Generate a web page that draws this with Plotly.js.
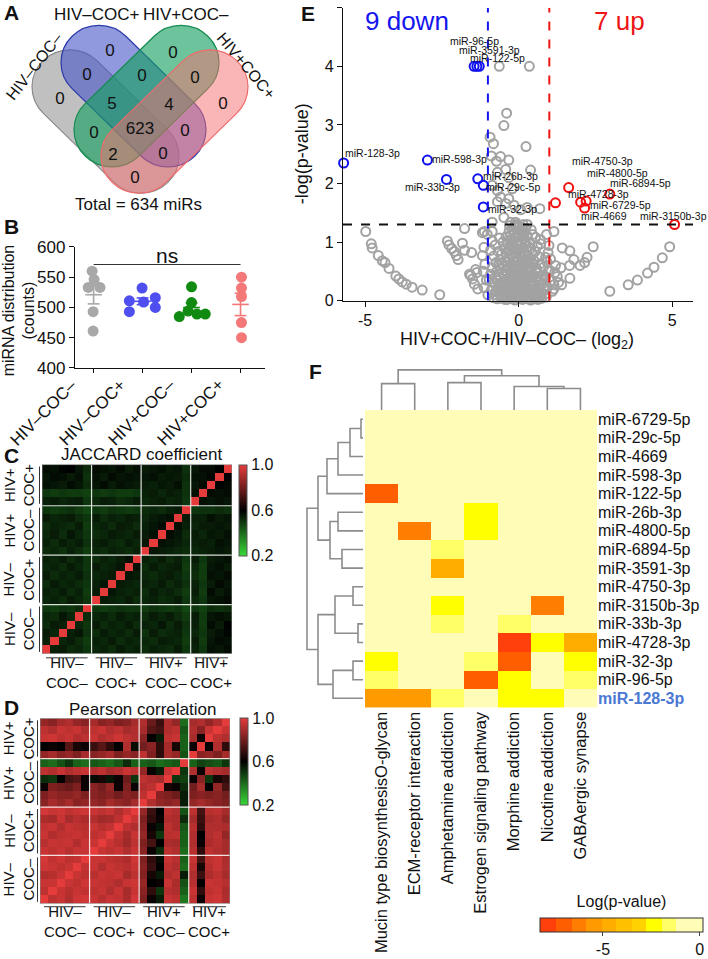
<!DOCTYPE html>
<html><head><meta charset="utf-8">
<script src="https://cdn.plot.ly/plotly-3.0.1.min.js"></script>
<style>body{margin:0;padding:0;background:#fff}#chart{width:708px;height:959px}</style>
</head><body><div id="chart"></div>
<script>
// ================= DATA =================
// A: Venn
const vennSets = ['HIV–COC–','HIV–COC+','HIV+COC–','HIV+COC+'];
const vennRegionCounts = [0,0,0,0, 0,0,0, 5,4, 0,623,0, 2,0, 0];
const vennTotal = 634;

// B: miRNA distribution (counts)
const bGroups = ['HIV–COC–','HIV–COC+','HIV+COC–','HIV+COC+'];
const bHivNegCocNeg = [560,546,533,533,493,461];
const bHivNegCocPos = [532,511,516,509,493,500];
const bHivPosCocNeg = [534,508,485,494,489,489];
const bHivPosCocPos = [550,532,518,475,450];

// C/D: sample groups
const sampleGroupSizes = [6,6,6,5];
const sampleGroupNames = ['HIV–<br>COC–','HIV–<br>COC+','HIV+<br>COC–','HIV+<br>COC+'];

// C: Jaccard coefficient (lower triangle, row = sample from bottom)
const jaccardLower = [
[1],
[.54,1],
[.55,.53,1],
[.52,.55,.54,1],
[.53,.52,.56,.53,1],
[.50,.49,.51,.50,.52,1],
[.53,.54,.52,.55,.53,.50,1],
[.54,.53,.55,.52,.54,.49,.55,1],
[.52,.55,.53,.54,.52,.50,.54,.56,1],
[.55,.52,.54,.53,.55,.51,.53,.54,.55,1],
[.53,.54,.52,.55,.53,.50,.55,.53,.54,.56,1],
[.54,.53,.55,.52,.54,.50,.52,.54,.53,.55,.57,1],
[.52,.53,.51,.54,.52,.49,.53,.52,.54,.53,.52,.54,1],
[.54,.52,.55,.53,.55,.51,.54,.55,.53,.52,.55,.53,.56,1],
[.53,.55,.52,.56,.53,.50,.52,.53,.55,.54,.53,.55,.55,.57,1],
[.52,.54,.53,.52,.55,.49,.53,.54,.52,.55,.54,.52,.54,.56,.58,1],
[.55,.53,.54,.55,.52,.50,.55,.52,.54,.53,.55,.54,.53,.55,.56,.57,1],
[.50,.49,.50,.51,.49,.47,.50,.49,.51,.50,.49,.50,.52,.53,.52,.54,.55,1],
[.54,.55,.53,.54,.55,.50,.53,.55,.54,.52,.53,.55,.53,.54,.55,.53,.54,.50,1],
[.50,.49,.50,.49,.49,.48,.50,.49,.50,.49,.49,.50,.54,.55,.53,.55,.54,.51,.57,1],
[.57,.56,.55,.58,.56,.52,.56,.58,.55,.57,.56,.55,.55,.54,.56,.55,.57,.51,.56,.58,1],
[.56,.58,.57,.55,.57,.51,.57,.55,.58,.56,.57,.56,.56,.57,.55,.56,.55,.52,.57,.57,.59,1],
[.58,.57,.59,.60,.56,.52,.58,.57,.56,.58,.55,.57,.55,.56,.57,.55,.56,.51,.56,.58,.58,.60,1]
];

// D: Pearson correlation (row = sample from bottom)
const pearson = [
[1,.93,.95,.91,.96,.97, .95,.92,.95,.94,.90,.97, .82,.62,.55,.95,.93,.38, .93,.62,.95,.96,.91],
[.93,1,.95,.92,.95,.94, .93,.95,.91,.95,.89,.95, .84,.68,.50,.92,.91,.42, .95,.68,.93,.95,.90],
[.95,.95,1,.95,.93,.96, .95,.94,.93,.91,.95,.96, .86,.60,.62,.95,.90,.45, .92,.60,.95,.94,.92],
[.91,.92,.95,1,.95,.93, .92,.95,.94,.95,.89,.93, .83,.64,.55,.91,.93,.55, .91,.70,.90,.93,.89],
[.96,.95,.93,.95,1,.94, .95,.91,.95,.93,.92,.95, .84,.70,.60,.93,.91,.40, .93,.64,.92,.95,.91],
[.97,.94,.96,.93,.94,1, .95,.95,.93,.92,.90,.96, .82,.68,.58,.95,.92,.42, .95,.72,.93,.95,.90],
[.95,.93,.95,.92,.95,.95, 1,.95,.93,.95,.91,.95, .84,.62,.52,.93,.91,.40, .92,.68,.93,.91,.89],
[.92,.95,.94,.95,.91,.95, .95,1,.95,.92,.88,.93, .82,.72,.60,.90,.89,.42, .91,.62,.90,.92,.89],
[.95,.91,.93,.94,.95,.93, .93,.95,1,.94,.89,.95, .86,.64,.50,.92,.93,.42, .91,.60,.91,.93,.86],
[.94,.95,.91,.95,.93,.92, .95,.92,.94,1,.93,.91, .84,.62,.56,.93,.90,.44, .92,.68,.91,.91,.90],
[.90,.89,.95,.89,.92,.90, .91,.88,.89,.93,1,.95, .82,.68,.62,.91,.90,.52, .89,.70,.89,.91,.86],
[.97,.95,.96,.93,.95,.96, .95,.93,.95,.91,.95,1, .86,.70,.60,.93,.91,.45, .93,.72,.92,.93,.89],
[.84,.89,.86,.89,.84,.86, .86,.84,.89,.86,.84,.89, 1,.91,.86,.84,.86,.55, .86,.89,.86,.84,.82],
[.82,.86,.84,.84,.86,.82, .84,.82,.84,.80,.84,.82, .93,1,.84,.82,.79,.55, .82,.84,.82,.84,.80],
[.62,.82,.80,.78,.82,.62, .84,.80,.86,.62,.82,.62, .91,.93,1,.64,.62,.52, .80,.89,.60,.86,.72],
[.52,.50,.60,.72,.75,.62, .58,.64,.56,.62,.79,.50, .93,.91,.89,1,.50,.48, .62,.84,.50,.64,.68],
[.93,.91,.95,.91,.93,.95, .91,.93,.89,.91,.95,.93, .86,.62,.55,.95,1,.50, .91,.62,.93,.91,.89],
[.42,.40,.45,.50,.42,.40, .44,.42,.40,.44,.52,.42, .42,.44,.40,.42,.44,1, .42,.48,.46,.44,.50],
[.86,.89,.84,.86,.82,.89, .84,.86,.89,.82,.86,.84, .93,.82,.68,.89,.86,.45, 1,.84,.86,.82,.89],
[.60,.62,.60,.75,.64,.62, .70,.75,.68,.60,.91,.58, .80,.84,.68,.89,.64,.42, .62,1,.60,.91,.68],
[.95,.96,.93,.95,.91,.93, .95,.91,.93,.96,.93,.91, .84,.60,.55,.93,.95,.42, .89,.62,1,.93,.91],
[.93,.91,.95,.93,.95,.91, .93,.95,.91,.93,.89,.91, .89,.75,.72,.91,.93,.44, .91,.84,.95,1,.95],
[.86,.84,.89,.91,.86,.84, .89,.84,.86,.82,.84,.89, .91,.78,.70,.91,.86,.40, .89,.91,.86,.91,1]
];

// E: volcano
const downNames = ['miR-96-5p','miR-3591-3p','miR-122-5p','miR-128-3p','miR-598-3p','miR-33b-3p','miR-26b-3p','miR-29c-5p','miR-32-3p'];
const downLog2FC = [-1.45,-1.36,-1.28,-5.7,-2.97,-2.35,-1.33,-1.15,-1.15];
const downNegLogP = [4.0,4.0,4.0,2.35,2.4,2.07,2.08,1.97,1.6];
const upNames = ['miR-4750-3p','miR-4728-3p','miR-6729-5p','miR-6894-5p','miR-4669','miR-4800-5p','miR-3150b-3p'];
const upLog2FC = [1.63,1.2,2.02,2.2,2.15,2.97,5.08];
const upNegLogP = [1.93,1.67,1.68,1.7,1.58,1.82,1.3];
const notSigPoints = [
[-0.63,4.0],[0.35,4.0],[-0.39,3.2],[-0.48,2.99],[-0.93,2.79],[-0.82,2.68],[0.24,2.63],[-0.89,2.47],[-0.59,2.46],[-0.32,2.4],[-0.72,2.38],[0.39,2.23],[-0.42,2.24],[-0.69,2.19],[-0.32,2.1],[-0.86,1.97],[-0.69,1.88],[-0.21,1.91],[-0.59,1.77],[-0.32,1.74],[-0.69,1.69],[-0.42,1.66],[-0.15,1.63],[0.69,1.57],[0.28,1.59],[0.07,1.55],[-0.48,1.42],[-0.86,1.34],[-0.26,1.34],[-0.1,1.34],[-1.76,1.23],[-1.12,1.18],[-0.86,1.18],[0.28,1.3],[1.15,1.18],
[-4.98,1.18],[-4.8,0.97],[-4.77,0.9],[-4.57,0.77],[-4.44,0.68],[-4.35,0.65],[-4.22,0.55],[-4.0,0.42],[-3.9,0.37],[-3.79,0.32],[-3.66,0.28],[-3.47,0.23],[-3.14,0.18],[-2.57,0.1],
[-2.32,1.02],[-2.27,0.95],[-2.18,0.89],[-2.1,0.84],[-2.03,0.77],[-1.97,0.7],[-1.83,0.98],[-1.76,0.86],[-1.53,0.82],[-1.4,0.53],[-1.36,0.48],[-1.56,0.43],[-1.5,0.37],[-1.44,0.28],[-1.33,0.2],[-1.6,0.45],
[1.42,0.9],[1.67,0.85],[1.8,0.7],[2.23,0.74],[2.43,0.92],[2.15,0.65],[2.0,0.6],[1.66,0.6],[1.38,0.56],[1.67,0.38],[1.4,0.27],[1.15,0.27],[2.97,0.16],[3.57,0.27],[3.87,0.35],[4.2,0.47],[4.41,0.57],[4.68,0.73],[4.92,0.92],
[0.45,1.13],[0.55,1.08],[0.72,0.97],[0.91,1.13],[0.99,0.94],[0.88,0.74],[1.2,0.6],[1.26,0.41],[0.88,0.41],[0.93,0.24],[1.15,0.2],
[-1.02,1.13],[-0.86,1.02],[-1.18,1.16],[-1.13,0.91],[-1.18,0.77],[-1.1,0.62],[-1.15,0.5],[-1.05,0.35],[-1.12,0.22],[-1.0,0.1],
[-0.12,1.29],[0.02,1.27],[0.11,1.25],[-0.21,1.22],[-0.31,1.18],[-0.16,1.2],[0.06,1.19],[0.19,1.16],[0.41,1.21],
[-0.41,1.09],[-0.26,1.11],[-0.09,1.08],[0.04,1.12],[0.15,1.06],[0.29,1.1],[-0.62,1.07],[0.71,1.04],
[-0.51,1.0],[-0.36,0.98],[-0.19,1.01],[-0.06,0.97],[0.09,1.0],[0.23,0.96],[0.36,0.99],[-0.76,0.95],[0.61,0.93],
[-0.46,0.9],[-0.29,0.88],[-0.14,0.91],[0.01,0.87],[0.13,0.9],[0.26,0.86],[0.39,0.89],[-0.91,0.86],[-0.66,0.84],[0.54,0.84],[0.96,0.82],
[-0.56,0.79],[-0.41,0.81],[-0.24,0.78],[-0.11,0.8],[0.06,0.77],[0.19,0.8],[0.31,0.76],[0.46,0.79],[-0.81,0.76],[0.66,0.75],[1.04,0.71],
[-0.61,0.7],[-0.44,0.68],[-0.31,0.71],[-0.16,0.67],[0.0,0.7],[0.1,0.66],[0.21,0.69],[0.33,0.65],[0.51,0.68],[-0.74,0.65],[0.71,0.63],[0.92,0.66],
[-0.66,0.6],[-0.49,0.58],[-0.36,0.61],[-0.21,0.57],[-0.04,0.6],[0.08,0.56],[0.2,0.59],[0.31,0.55],[0.43,0.58],[0.59,0.54],[-0.86,0.56],[0.81,0.57],[1.01,0.52],
[-0.71,0.5],[-0.54,0.48],[-0.41,0.51],[-0.27,0.47],[-0.14,0.5],[-0.01,0.46],[0.11,0.49],[0.23,0.45],[0.36,0.48],[0.49,0.44],[0.63,0.47],[-0.91,0.45],[0.78,0.43],[1.18,0.48],[0.96,0.5],
[-0.76,0.4],[-0.59,0.38],[-0.46,0.41],[-0.33,0.37],[-0.19,0.4],[-0.07,0.36],[0.05,0.39],[0.16,0.35],[0.28,0.38],[0.41,0.34],[0.56,0.37],[0.69,0.33],[-0.96,0.36],[0.86,0.38],[1.06,0.34],
[-0.81,0.3],[-0.64,0.28],[-0.51,0.31],[-0.38,0.27],[-0.24,0.3],[-0.12,0.26],[0.01,0.29],[0.12,0.25],[0.24,0.28],[0.37,0.24],[0.51,0.27],[0.66,0.23],[0.79,0.29],[1.3,0.31],
[-0.69,0.2],[-0.56,0.18],[-0.42,0.21],[-0.29,0.17],[-0.17,0.2],[-0.04,0.16],[0.08,0.19],[0.21,0.15],[0.33,0.18],[0.46,0.14],[0.61,0.17],[0.76,0.13],[-0.89,0.18],[0.91,0.19],[1.1,0.16],
[-0.61,0.11],[-0.46,0.09],[-0.33,0.12],[-0.2,0.08],[-0.08,0.11],[0.06,0.07],[0.18,0.1],[0.31,0.06],[0.43,0.09],[0.56,0.05],[0.71,0.08],[-0.79,0.1],[0.86,0.11],
[-0.51,0.04],[-0.37,0.02],[-0.25,0.05],[-0.12,0.01],[0.0,0.04],[0.13,0.02],[0.26,0.05],[0.39,0.01],[0.51,0.03],[0.63,0.02],[-0.69,0.03],
[-0.05,1.3],[0.15,1.3],[-0.3,1.28],[0.22,1.23],[-0.02,1.14],[0.1,1.02],[-0.18,0.94],[0.18,0.83],[-0.05,0.74],[0.14,0.63],[-0.1,0.54],[0.27,0.52],[-0.22,0.44],[0.1,0.42],[-0.32,0.33],[0.05,0.32],[0.18,0.22],[-0.1,0.23],[0.27,0.12],[-0.27,0.14],
[-0.07,1.24],[0.08,1.21],[-0.14,1.15],[0.12,1.12],[-0.22,1.05],[0.2,1.02],[-0.02,0.99],[-0.28,0.94],[0.31,0.93],[-0.09,0.86],[0.08,0.83],[-0.35,0.84],[0.24,0.77],[-0.18,0.73],[0.38,0.72],[-0.38,0.66],[0.05,0.63],[0.27,0.62],[-0.26,0.62],[-0.55,0.64],[0.48,0.62],
[-0.12,0.57],[0.16,0.53],[-0.33,0.55],[0.38,0.53],[-0.6,0.54],[0.55,0.5],[-0.05,0.5],[-0.47,0.45],[0.3,0.43],[-0.13,0.43],[0.44,0.4],[-0.66,0.44],[0.63,0.41],[-0.26,0.38],[0.0,0.35],[0.21,0.33],[-0.43,0.34],[0.47,0.3],[-0.7,0.35],[0.74,0.36],
[-0.19,0.32],[0.08,0.28],[-0.31,0.24],[0.29,0.21],[-0.48,0.25],[0.57,0.21],[-0.63,0.24],[0.7,0.27],[-0.02,0.22],[0.14,0.17],[-0.36,0.16],[0.39,0.13],[-0.52,0.14],[0.66,0.12],[-0.75,0.15],[0.82,0.22],
[-0.14,0.13],[0.02,0.11],[0.24,0.09],[-0.4,0.06],[0.48,0.07],[-0.57,0.08],[0.62,0.1],[-0.06,0.06],[0.08,0.03],[-0.2,0.03],[0.33,0.03],[-0.45,0.02],[0.75,0.04],[-0.82,0.05],[0.9,0.06]
];
const fcCut = 1, pCut = 1.3;

// F: pathway heatmap
const fRows = ['miR-6729-5p','miR-29c-5p','miR-4669','miR-598-3p','miR-122-5p','miR-26b-3p','miR-4800-5p','miR-6894-5p','miR-3591-3p','miR-4750-3p','miR-3150b-3p','miR-33b-3p','miR-4728-3p','miR-32-3p','miR-96-5p','miR-128-3p'];
const fCols = ['Mucin type biosynthesisO-glycan','ECM-receptor interaction','Amphetamine addiction','Estrogen signaling pathway','Morphine addiction','Nicotine addiction','GABAergic synapse'];
const fLogP = [
[0,0,0,0,0,0,0],
[0,0,0,0,0,0,0],
[0,0,0,0,0,0,0],
[0,0,0,0,0,0,0],
[-7.0,0,0,0,0,0,0],
[0,0,0,-2.4,0,0,0],
[0,-6.2,0,-2.4,0,0,0],
[0,0,-1.6,0,0,0,0],
[0,0,-4.7,0,0,0,0],
[0,0,0,0,0,0,0],
[0,0,-2.2,0,0,-6.5,0],
[0,0,-1.5,0,-1.5,0,0],
[0,0,0,0,-7.8,-2.4,-4.5],
[-2.3,0,0,-1.6,-6.8,-0.5,-2.3],
[-1.6,0,0,-7.0,-2.4,-0.5,-1.6],
[-5.5,-5.5,-1.6,-0.8,-2.4,-2.4,-0.8]
];
// dendrogram linkages: [left node, right node, height]
const rowLinkage = [[0,1,2],[16,2,13],[17,3,25],[18,4,36],[5,6,25],[7,8,21],[20,21,33],[19,22,45],[9,10,10],[11,12,5],[24,25,28],[13,14,10],[27,15,30],[26,28,45],[23,29,56]];
const colLinkage = [[0,1,27],[2,3,28],[5,6,22],[4,9,24],[8,10,35],[7,11,41]];

// ================= LAYOUT HELPERS =================
const W=708,H=959;
const X=p=>p/W, Y=p=>1-p/H;
const FONT='Arial, "Liberation Sans", Helvetica, sans-serif';
const traces=[], shapes=[], ann=[];
function txt(x,y,text,size,opts){ann.push(Object.assign({xref:'x',yref:'y',x:x,y:y,text:text,showarrow:false,
  font:{size:size,family:FONT,color:'#111'},xanchor:'center',yanchor:'middle'},opts||{}));}

// ---------- A: Venn ----------
function stadium(c1,c2,r){
  const dx=c2[0]-c1[0],dy=c2[1]-c1[1],L=Math.hypot(dx,dy),ux=dx/L,uy=dy/L,nx=-uy,ny=ux,k=0.5523*r;
  const p=(c,a,b)=>(c[0]+a*ux+b*nx).toFixed(2)+','+(c[1]+a*uy+b*ny).toFixed(2);
  return 'M'+p(c1,0,r)+' L'+p(c2,0,r)+' C'+p(c2,k,r)+' '+p(c2,r,k)+' '+p(c2,r,0)+
    ' C'+p(c2,r,-k)+' '+p(c2,k,-r)+' '+p(c2,0,-r)+' L'+p(c1,0,-r)+
    ' C'+p(c1,-k,-r)+' '+p(c1,-r,-k)+' '+p(c1,-r,0)+' C'+p(c1,-r,k)+' '+p(c1,-k,r)+' '+p(c1,0,r)+' Z';
}
const vennShapes=[
 {c1:[70,89],c2:[141,160],fill:'rgba(140,140,140,0.55)',line:'#8a8a8a'},
 {c1:[99,64],c2:[168,133],fill:'rgba(70,85,200,0.6)',line:'#2a3aa8'},
 {c1:[181,64],c2:[112,133],fill:'rgba(20,160,95,0.62)',line:'#138a4e'},
 {c1:[210,89],c2:[139,160],fill:'rgba(245,110,110,0.5)',line:'#f06a6a'}];
vennShapes.forEach(s=>shapes.push({type:'path',xref:'x',yref:'y',layer:'below',path:stadium(s.c1,s.c2,38),
  fillcolor:s.fill,line:{color:s.line,width:1.2}}));
const vennRegionPos=[[60,102],[110,53],[173,55],[223,107],[87,78],[142,79],[195,81],[112,107],[169,108],[94,137],[140,133],[185,135],[113,160],[163,159],[135,183]];
traces.push({type:'scatter',mode:'text',xaxis:'x',yaxis:'y',x:vennRegionPos.map(p=>p[0]),y:vennRegionPos.map(p=>p[1]),
  text:vennRegionCounts.map(String),textfont:{size:17,family:FONT,color:'#111'},hoverinfo:'skip',cliponaxis:false});
txt(34,68,vennSets[0],16,{textangle:-52});
txt(97,15,vennSets[1],17);
txt(186,15,vennSets[2],17);
txt(246,67,vennSets[3],16,{textangle:50});
txt(138,210,'Total = '+vennTotal+' miRs',17);

// panel letters
[['A',2,13],['B',2,232],['C',2,467],['D',2,725],['E',299,14],['F',307,381]].forEach(l=>
  txt(l[1],l[2],'<b>'+l[0]+'</b>',21,{xanchor:'left'}));

// ---------- B ----------
const bData=[bHivNegCocNeg,bHivNegCocPos,bHivPosCocNeg,bHivPosCocPos];
const bColors=['#a8a8a8','#4f4ff0','#108a10','#f47878'];
const bJitter=[[-0.03,0.01,-0.11,0.13,-0.01,-0.01],[-0.01,-0.27,0.26,0.02,-0.27,0.26],[0,0,-0.25,-0.07,0.11,0.28],[0.02,0.02,0.02,0.02,0.02]];
bData.forEach((vals,g)=>{
  traces.push({type:'scatter',mode:'markers',xaxis:'x2',yaxis:'y2',x:vals.map((v,i)=>g+bJitter[g][i]),y:vals,
    marker:{size:11,color:bColors[g]},hoverinfo:'skip',cliponaxis:false});
  const n=vals.length,m=vals.reduce((a,b)=>a+b,0)/n;
  const sd=Math.sqrt(vals.reduce((a,b)=>a+(b-m)*(b-m),0)/(n-1)),se=sd/Math.sqrt(n);
  const hw=0.17,cw=0.12;
  traces.push({type:'scatter',mode:'lines',xaxis:'x2',yaxis:'y2',
    x:[g-hw,g+hw,null,g-cw,g+cw,null,g-cw,g+cw,null,g,g],
    y:[m,m,null,m+se,m+se,null,m-se,m-se,null,m-se,m+se],
    line:{color:bColors[g],width:1.6},hoverinfo:'skip'});
});
traces.push({type:'scatter',mode:'lines',xaxis:'x2',yaxis:'y2',x:[0,3],y:[571,571],line:{color:'#333',width:1.2},hoverinfo:'skip'});
ann.push({xref:'x2',yref:'y2',x:1.5,y:586,text:'ns',showarrow:false,font:{size:21,family:FONT,color:'#111'}});
txt(19,318,'miRNA distribution<br>(counts)',16,{textangle:-90});
// rotated category labels (anchored at each category tick)
bGroups.forEach((g,i)=>ann.push({xref:'x2',yref:'y',x:i,y:382,xshift:-10,text:g,showarrow:false,textangle:-45,
  xanchor:'right',yanchor:'top',font:{size:17,family:FONT,color:'#111'}}));

// ---------- C & D heatmaps ----------
const n=jaccardLower.length, idx=[...Array(n).keys()];
const jaccard=idx.map(i=>idx.map(j=>j<=i?jaccardLower[i][j]:jaccardLower[j][i]));
const rgScale=[[0,'#38d838'],[0.5,'#000000'],[1,'#e53b3b']];
function cb(xpx,ypx,lenpx){return {x:X(xpx),xanchor:'left',xpad:0,y:Y(ypx),yanchor:'top',ypad:0,len:lenpx,lenmode:'pixels',
  thickness:8,thicknessmode:'pixels',outlinewidth:1,outlinecolor:'#555',tickvals:[0.2,0.6,1.0],ticktext:['0.2','0.6','1.0'],
  ticks:'',tickfont:{size:16,family:FONT,color:'#111'}};}
traces.push({type:'heatmap',xaxis:'x3',yaxis:'y3',z:jaccard,x:idx,y:idx,colorscale:rgScale,zmin:0.2,zmax:1,colorbar:cb(239,476,91),hoverinfo:'skip'});
traces.push({type:'heatmap',xaxis:'x4',yaxis:'y4',z:pearson,x:idx,y:idx,colorscale:rgScale,zmin:0.2,zmax:1,colorbar:cb(240,736,87),hoverinfo:'skip'});
const seps=[];let acc=0;sampleGroupSizes.slice(0,-1).forEach(s=>{acc+=s;seps.push(acc-0.5);});
[['x3','y3'],['x4','y4']].forEach(a=>{
  seps.forEach(s=>{
    shapes.push({type:'line',xref:a[0],yref:a[1],x0:s,x1:s,y0:-0.5,y1:n-0.5,line:{color:'rgba(255,255,255,0.85)',width:1.2}});
    shapes.push({type:'line',xref:a[0],yref:a[1],y0:s,y1:s,x0:-0.5,x1:n-0.5,line:{color:'rgba(255,255,255,0.85)',width:1.2}});
  });
  shapes.push({type:'rect',xref:a[0],yref:a[1],x0:-0.5,x1:n-0.5,y0:-0.5,y1:n-0.5,line:{color:'#888',width:1}});
});
function groupLabels(left,top,right,bottom,brY,labY){
  const cw=(right-left)/n,ch=(bottom-top)/n;let k=0;
  sampleGroupSizes.forEach((s,g)=>{
    const x0=left+k*cw,x1=left+(k+s)*cw,yb=bottom-k*ch,yt=bottom-(k+s)*ch;
    shapes.push({type:'line',xref:'x',yref:'y',x0:x0+4,x1:x1-4,y0:brY,y1:brY,line:{color:'#333',width:1}});
    txt((x0+x1)/2,labY,sampleGroupNames[g],15);
    shapes.push({type:'line',xref:'x',yref:'y',x0:left-2.5,x1:left-2.5,y0:yt+2,y1:yb-2,line:{color:'#333',width:1}});
    txt(19,(yt+yb)/2,sampleGroupNames[g],15,{textangle:-90});
    k+=s;
  });
}
groupLabels(42,476,232,670,674,689);
groupLabels(40,736,230,926,929,944);
txt(142,466,'JACCARD coefficient',17);
txt(142,727,'Pearson correlation',17);

// ---------- E volcano ----------
traces.push({type:'scatter',mode:'markers',xaxis:'x5',yaxis:'y5',x:notSigPoints.map(p=>p[0]),y:notSigPoints.map(p=>p[1]),
  marker:{symbol:'circle-open',size:9,color:'#a2a2a2',line:{width:2}},hoverinfo:'skip',cliponaxis:false});
traces.push({type:'scatter',mode:'markers',xaxis:'x5',yaxis:'y5',x:downLog2FC,y:downNegLogP,
  marker:{symbol:'circle-open',size:9,color:'#1010f0',line:{width:2}},hoverinfo:'skip',cliponaxis:false});
traces.push({type:'scatter',mode:'markers',xaxis:'x5',yaxis:'y5',x:upLog2FC,y:upNegLogP,
  marker:{symbol:'circle-open',size:9,color:'#f01010',line:{width:2}},hoverinfo:'skip',cliponaxis:false});
shapes.push({type:'line',xref:'x5',yref:'y5',x0:-fcCut,x1:-fcCut,y0:0,y1:5,line:{color:'#1515ee',width:2,dash:'dash'}});
shapes.push({type:'line',xref:'x5',yref:'y5',x0:fcCut,x1:fcCut,y0:0,y1:5,line:{color:'#ee1515',width:2,dash:'dash'}});
shapes.push({type:'line',xref:'x5 domain',yref:'y5',x0:0,x1:1,y0:pCut,y1:pCut,line:{color:'#111',width:2,dash:'dash'}});
const downLabelShift=[[0,-25],[13,-16],[18,-8],[29,-10],[32,-1],[-14,8],[33,-3],[30,2],[29,2]];
const upLabelShift=[[34,-27],[43,-9],[40,3],[54,-18],[19,8],[8,-21],[-1,-8]];
function labelPts(names,xs,ys,sh){names.forEach((nm,i)=>ann.push({xref:'x5',yref:'y5',x:xs[i],y:ys[i],text:nm,showarrow:false,
  xshift:sh[i][0],yshift:-sh[i][1],borderpad:0,font:{size:10.5,family:FONT,color:'#111'}}));}
labelPts(downNames,downLog2FC,downNegLogP,downLabelShift);
labelPts(upNames,upLog2FC,upNegLogP,upLabelShift);
txt(407,21,downNames.length+' down',26,{font:{size:26,family:FONT,color:'#1515ee'}});
txt(619,21,upNames.length+' up',26,{font:{size:26,family:FONT,color:'#ee1515'}});
txt(517,349,'HIV+COC+/HIV–COC– (log<sub>2</sub>)',18);
txt(302,158,'-log(p-value)',18,{textangle:-90});

// ---------- F heatmap + dendrograms ----------
const bandEdges=[-8.25,-7.4,-6.6,-5.85,-5.07,-4.3,-3.5,-2.75,-1.97,-1.2,0.17];
const bandColors=['#ff3f0c','#ff5e00','#ff7d00','#ff9a00','#ffae00','#ffc000','#ffd200','#ffff00','#ffff66','#fffcb8'];
const zmin=bandEdges[0],zmax=bandEdges[bandEdges.length-1],fr=v=>(v-zmin)/(zmax-zmin);
const fScale=[];bandColors.forEach((c,i)=>{fScale.push([fr(bandEdges[i]),c]);fScale.push([fr(bandEdges[i+1]),c]);});
traces.push({type:'heatmap',xaxis:'x6',yaxis:'y6',z:fLogP,colorscale:fScale,zmin:zmin,zmax:zmax,hoverinfo:'skip',
  colorbar:{orientation:'h',x:X(621.5),xanchor:'center',xpad:0,y:Y(923),yanchor:'top',ypad:0,len:163,lenmode:'pixels',
    thickness:14,thicknessmode:'pixels',outlinewidth:1,outlinecolor:'#333',tickvals:[-5,0],ticktext:['-5','0'],ticks:'outside',ticklen:4,
    tickfont:{size:16,family:FONT,color:'#111'},title:{text:'Log(p-value)',side:'top',font:{size:16,family:FONT,color:'#111'}}}});
function dendro(nLeaves,link){
  const pos=[...Array(nLeaves).keys()],h=Array(nLeaves).fill(0),a=[],b=[];
  link.forEach(([l,r,ht])=>{
    a.push(h[l],ht,ht,h[r],null);b.push(pos[l],pos[l],pos[r],pos[r],null);
    pos.push((pos[l]+pos[r])/2);h.push(ht);
  });
  return {h:a,p:b};
}
const rd=dendro(fRows.length,rowLinkage);
traces.push({type:'scatter',mode:'lines',xaxis:'x7',yaxis:'y6',x:rd.h,y:rd.p,line:{color:'#8c8c8c',width:1.6},hoverinfo:'skip',connectgaps:false});
const cd=dendro(fCols.length,colLinkage);
traces.push({type:'scatter',mode:'lines',xaxis:'x6',yaxis:'y7',x:cd.p,y:cd.h,line:{color:'#8c8c8c',width:1.6},hoverinfo:'skip',connectgaps:false});
const rowTickText=fRows.map((r,i)=>i===fRows.length-1?'<b><span style="color:#4a78d4">'+r+'</span></b>':r);

// ================= LAYOUT =================
const axBase={showgrid:false,zeroline:false,fixedrange:true,automargin:false};
const layout={
  width:W,height:H,margin:{l:0,r:0,t:0,b:0},paper_bgcolor:'#fff',plot_bgcolor:'rgba(0,0,0,0)',showlegend:false,
  font:{family:FONT,color:'#111'},
  xaxis:Object.assign({},axBase,{domain:[0,1],range:[0,W],visible:false}),
  yaxis:Object.assign({},axBase,{domain:[0,1],range:[H,0],visible:false}),
  xaxis2:Object.assign({},axBase,{domain:[X(75),X(265)],anchor:'y2',range:[-0.38,3.5],showline:true,linecolor:'#111',linewidth:1.2,
    tickvals:[0,1,2,3],showticklabels:false,ticks:'outside',ticklen:4,tickcolor:'#111'}),
  yaxis2:Object.assign({},axBase,{domain:[Y(377),Y(253)],anchor:'x2',range:[400,600],showline:true,linecolor:'#111',linewidth:1.2,
    tickvals:[400,450,500,550,600],ticks:'outside',ticklen:5,tickcolor:'#111',tickfont:{size:17}}),
  xaxis3:Object.assign({},axBase,{domain:[X(42),X(232)],anchor:'y3',range:[-0.5,n-0.5],visible:false}),
  yaxis3:Object.assign({},axBase,{domain:[Y(670),Y(476)],anchor:'x3',range:[-0.5,n-0.5],visible:false}),
  xaxis4:Object.assign({},axBase,{domain:[X(40),X(230)],anchor:'y4',range:[-0.5,n-0.5],visible:false}),
  yaxis4:Object.assign({},axBase,{domain:[Y(926),Y(736)],anchor:'x4',range:[-0.5,n-0.5],visible:false}),
  xaxis5:Object.assign({},axBase,{domain:[X(343),X(693)],anchor:'y5',range:[-5.72,5.68],showline:true,linecolor:'#111',linewidth:1.2,
    tickvals:[-5,0,5],ticktext:['-5','0','5'],ticks:'outside',ticklen:5,tickcolor:'#111',tickfont:{size:16}}),
  yaxis5:Object.assign({},axBase,{domain:[Y(308),Y(8)],anchor:'x5',range:[0,5],showline:true,linecolor:'#111',linewidth:1.2,
    tickvals:[0,1,2,3,4,5],ticks:'outside',ticklen:5,tickcolor:'#111',tickfont:{size:16}}),
  xaxis6:Object.assign({},axBase,{domain:[X(365),X(597)],anchor:'y6',range:[-0.5,fCols.length-0.5],tickvals:fCols.map((c,i)=>i),
    ticktext:fCols,tickangle:-90,ticks:'',tickfont:{size:16.5}}),
  yaxis6:Object.assign({},axBase,{domain:[Y(725),Y(420)],anchor:'x6',side:'right',range:[fRows.length-0.5,-0.5],
    tickvals:fRows.map((r,i)=>i),ticktext:rowTickText,ticks:'',tickfont:{size:16}}),
  xaxis7:Object.assign({},axBase,{domain:[X(300),X(365)],anchor:'y6',range:[63,-2],visible:false}),
  yaxis7:Object.assign({},axBase,{domain:[Y(420),Y(375)],anchor:'x6',range:[0,45],visible:false}),
  shapes:shapes,annotations:ann
};
Plotly.newPlot('chart',traces,layout,{displayModeBar:false,staticPlot:true});
</script>
</body></html>
